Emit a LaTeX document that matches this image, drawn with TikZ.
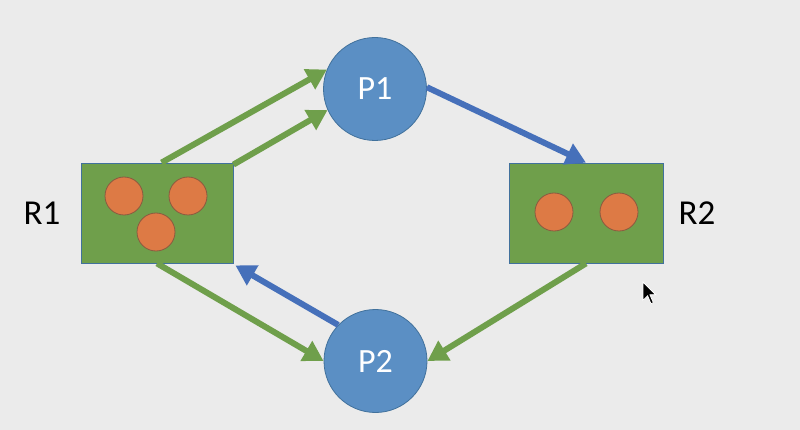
\documentclass[tikz,border=0pt]{standalone}
\usepackage{fontspec}
\setmainfont{Carlito}
\usetikzlibrary{arrows.meta,calc}
\definecolor{bgc}{HTML}{EBEBEB}
\definecolor{grn}{HTML}{6F9F4B}
\definecolor{pblue}{HTML}{5B8FC4}
\definecolor{pedge}{HTML}{41719C}
\definecolor{ablue}{HTML}{4670BA}
\definecolor{orng}{HTML}{DD7A45}
\definecolor{oedge}{HTML}{8A5A40}
\tikzset{
  res/.style={rectangle, fill=grn, draw=pedge, line width=0.8pt, minimum width=152pt, minimum height=100pt, inner sep=0pt},
  proc/.style={circle, fill=pblue, draw=pedge, line width=0.8pt, minimum size=103pt, inner sep=0pt, text=white, font=\fontsize{34}{40}\selectfont},
  inst/.style={circle, fill=orng, draw=oedge, line width=0.8pt, minimum size=38pt, inner sep=0pt},
  lbl/.style={font=\fontsize{35}{40}\selectfont, text=black},
  garr/.style={draw=grn, line width=6pt, -{Triangle[length=20pt,width=22pt]}},
  barr/.style={draw=ablue, line width=6pt, -{Triangle[length=20pt,width=22pt]}},
}
\begin{document}
\begin{tikzpicture}[x=1pt,y=-1pt]
\fill[bgc] (0,0) rectangle (800,430);
\useasboundingbox (0,0) rectangle (800,430);

\node[res] (R1) at (157,213) {};
\node[res, minimum width=154pt] (R2) at (586,213) {};
\node[inst] (a1) at (124,196) {};
\node[inst] (a2) at (188,196) {};
\node[inst] (a3) at (156,232) {};
\node[inst] (b1) at (554,212) {};
\node[inst] (b2) at (619,212) {};

\node[proc] (P1) at (375,89) {P1};
\node[proc] (P2) at (375.5,361) {P2};

\node[lbl] (L1) at (42,213) {R1};
\node[lbl] (L2) at (697,213) {R2};

\draw[garr] ($(R1.north west)!0.53!(R1.north east)$) -- (P1.158);
\draw[garr] ($(R1.north east)+(0,2)$) -- (P1.204);
\draw[barr] (P1.2) -- (R2.north);
\draw[garr] (R2.south) -- (P2.0);
\draw[garr] (R1.south) -- (P2.180);
\draw[barr] (P2.136) -- ($(R1.south east)+(2,2)$);

% mouse cursor
\coordinate (cur) at (643,282);
\filldraw[fill=black, draw=white, line width=0.8pt, shift={(cur)}, scale=1.15]
  (0,0) -- (0,16) -- (4,12) -- (7,19) -- (9,18) -- (6,11) -- (11,11) -- cycle;
\end{tikzpicture}
\end{document}
